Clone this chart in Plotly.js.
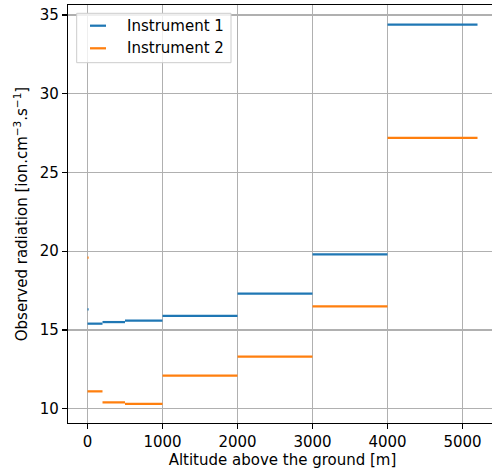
<!DOCTYPE html>
<html>
<head>
<meta charset="utf-8">
<script src="https://cdn.plot.ly/plotly-3.0.1.min.js"></script>
<style>
html, body { margin: 0; padding: 0; overflow: hidden; background: #fff; }
#chart { width: 498px; height: 475px; }
</style>
</head>
<body>
<div id="chart"></div>
<script>
// Altitude ranges (m): segment start / end
const segStart = [0, 0, 200, 500, 1000, 2000, 3000, 4000];
const segEnd   = [15, 200, 500, 1000, 2000, 3000, 4000, 5200];
// Observed radiation [ion.cm^-3.s^-1]
const instrument1 = [16.3, 15.4, 15.5, 15.6, 15.9, 17.3, 19.8, 34.4];
const instrument2 = [19.6, 11.1, 10.4, 10.3, 12.1, 13.3, 16.5, 27.2];
const seriesNames = ["Instrument 1", "Instrument 2"];
const seriesColors = ["#1f77b4", "#ff7f0e"];

function segments(vals) {
  const x = [], y = [];
  for (let i = 0; i < vals.length; i++) {
    x.push(segStart[i], segEnd[i], null);
    y.push(vals[i], vals[i], null);
  }
  return {x, y};
}

const s1 = segments(instrument1);
const s2 = segments(instrument2);
const font = {family: "DejaVu Sans", size: 15, color: "#000"};

const traces = [
  {x: s1.x, y: s1.y, mode: "lines", name: seriesNames[0], line: {color: seriesColors[0], width: 2.25}, connectgaps: false, showlegend: false},
  {x: s2.x, y: s2.y, mode: "lines", name: seriesNames[1], line: {color: seriesColors[1], width: 2.25}, connectgaps: false, showlegend: false}
];

const axisCommon = {
  showline: true, mirror: true, linecolor: "#000", linewidth: 1.2,
  ticks: "outside", ticklen: 5, tickwidth: 1.2, tickcolor: "#000",
  showgrid: true, gridcolor: "#b0b0b0", gridwidth: 1.2,
  zeroline: false, tickfont: font
};

// Legend box drawn in paper coordinates (plot area 429 x 418 px)
const PW = 429, PH = 418;
const px = v => v / PW, py = v => 1 - v / PH;
const shapes = [
  {type: "rect", xref: "paper", yref: "paper", x0: px(8.7), x1: px(163), y0: py(8.3), y1: py(57.7),
   fillcolor: "rgba(255,255,255,0.8)", line: {color: "#cccccc", width: 1}}
];
const annotations = [];
const rowY = [20.7, 43.3];
for (let i = 0; i < seriesNames.length; i++) {
  shapes.push({type: "line", xref: "paper", yref: "paper", x0: px(22), x1: px(38), y0: py(rowY[i]), y1: py(rowY[i]),
    line: {color: seriesColors[i], width: 2.25}});
  annotations.push({xref: "paper", yref: "paper", x: px(57), y: py(rowY[i]), xanchor: "left", yanchor: "middle",
    text: seriesNames[i], showarrow: false, font: font});
}

const layout = {
  width: 498, height: 475,
  margin: {l: 68, r: 1, t: 5, b: 52},
  paper_bgcolor: "#fff", plot_bgcolor: "#fff",
  font: font,
  showlegend: false,
  shapes: shapes,
  annotations: annotations,
  xaxis: Object.assign({}, axisCommon, {
    range: [-260, 5460], dtick: 1000, tick0: 0,
    title: {text: "Altitude above the ground [m]", font: font, standoff: 4}
  }),
  yaxis: Object.assign({}, axisCommon, {
    range: [9.09, 35.64], dtick: 5, tick0: 0,
    title: {text: "Observed radiation [ion.cm<sup>−3</sup>.s<sup>−1</sup>]", font: font, standoff: 8}
  })
};

Plotly.newPlot("chart", traces, layout, {staticPlot: true, displayModeBar: false});
</script>
</body>
</html>
